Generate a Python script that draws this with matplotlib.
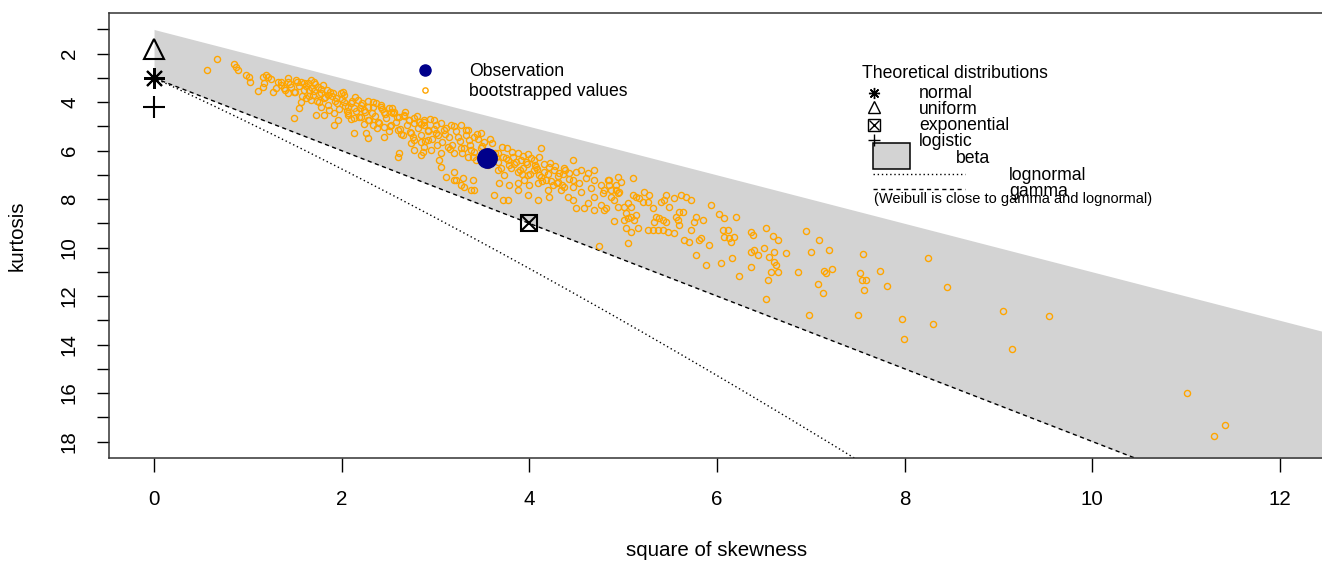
import numpy as np
import matplotlib
matplotlib.use("Agg")
from matplotlib import pyplot as plt
from matplotlib.patches import Rectangle

plt.rcParams['font.family'] = ['Liberation Sans', 'DejaVu Sans']

# --- Daten ---
obs_skew2 = 3.545
obs_kurt = 6.31

# theoretische Verteilungen (Schiefe^2, Kurtosis)
theo_names = ["normal", "uniform", "exponential", "logistic"]
theo_skew2 = [0.0, 0.0, 4.0, 0.0]
theo_kurt = [3.0, 1.8, 9.0, 4.2]

# Bootstrap-Werte
boot_skew2 = [
    0.560, 0.666, 0.848, 0.869, 0.890, 0.975, 1.007, 1.018, 1.157, 1.189,
    1.210, 1.167, 1.103, 1.157, 1.263, 1.317, 1.349, 1.381, 1.423, 1.455,
    1.423, 1.487, 1.509, 1.562, 1.594, 1.636, 1.668, 1.700, 1.647, 1.690,
    1.562, 1.615, 1.668, 1.540, 1.487, 1.743, 1.775, 1.807, 1.754, 1.775,
    1.850, 1.903, 1.935, 1.988, 2.010, 1.722, 1.807, 1.860, 1.914, 1.956,
    1.914, 2.020, 2.063, 2.095, 2.127, 2.170, 2.202, 2.234, 2.276, 2.329,
    2.361, 2.415, 2.447, 2.500, 2.553, 2.607, 2.660, 2.713, 2.767, 2.820,
    2.873, 2.063, 2.127, 2.202, 2.276, 2.329, 2.383, 2.447, 2.521, 2.596,
    2.649, 2.735, 2.767, 2.841, 2.916, 2.127, 2.255, 2.276, 2.447, 2.607,
    2.596, 2.841, 2.767, 2.735, 2.521,
    2.873, 2.980, 2.916, 3.001, 3.086, 3.161, 3.268, 3.342, 3.406, 3.481,
    2.873, 2.948, 3.054, 3.129, 3.193, 3.268, 3.342, 3.374, 3.428, 2.862,
    3.033, 3.054, 3.193, 3.108, 3.289, 3.396, 3.300, 3.374, 3.214,
    3.662, 3.715, 3.769, 3.822, 3.875, 3.907, 3.961, 4.014, 4.067, 4.120, 4.099,
    3.662, 3.726, 3.801, 3.875, 3.929, 3.982, 4.046, 4.099, 4.152, 4.206,
    4.259, 4.312, 4.366, 4.462, 4.419, 4.494, 4.547, 4.622, 4.686,
    3.673, 3.779, 3.875, 3.939, 3.993, 4.088, 4.174, 4.248, 4.302, 4.366,
    4.462, 4.526, 4.600, 4.686, 4.760, 4.845, 4.920,
    3.619, 3.715, 3.875, 3.982, 4.088, 4.195, 4.206, 4.334, 4.408, 4.462,
    4.547, 4.654, 4.686, 4.782, 4.867, 4.941,
    4.494, 4.579, 4.622, 4.686, 4.760, 4.813, 3.193, 3.268, 3.406, 3.769,
    4.792, 4.835, 4.845, 4.920, 4.941, 4.973, 4.952, 4.867, 4.792, 4.899,
    4.941, 5.005, 5.048, 5.080, 5.101,
    5.027, 5.080, 5.133, 5.005, 5.048, 5.112, 4.899, 5.027, 5.080, 5.155, 5.048,
    5.101, 5.133, 5.165, 5.208, 5.219, 5.272, 5.261, 5.314, 5.400, 5.453,
    5.432, 5.538, 5.613, 5.666, 5.720, 5.485,
    5.261, 5.314, 5.368, 5.421, 5.474, 5.325, 5.379, 5.421, 5.453, 5.346, 5.538,
    5.560, 5.592, 5.634, 5.581, 5.592, 5.720, 5.752, 5.773, 5.848, 5.645,
    5.698, 5.805, 5.826, 5.773, 5.912, 5.880,
    5.933, 6.018, 6.071, 6.061, 6.114, 6.071, 6.146, 6.125, 6.178, 6.199,
    6.040, 6.157, 6.231,
    6.359, 6.381, 6.359, 6.391, 6.434, 6.498, 6.519, 6.551, 6.594, 6.647,
    6.605, 6.605, 6.626, 6.359, 6.573, 6.647, 6.541, 6.733, 6.860, 6.946,
    6.999, 7.084, 7.074, 6.519,
    7.191, 7.553, 8.246, 7.138, 7.159, 7.223, 7.521, 7.543, 7.585, 7.735,
    7.127, 7.564, 7.809, 8.449, 6.978, 7.500, 7.969, 8.300, 7.990, 9.046,
    9.536, 9.142, 11.007, 11.413, 11.295, 4.739,
    # dichter Kern
    1.25, 1.30, 1.35, 1.40, 1.45, 1.50, 1.55, 1.58,
    1.62, 1.65, 1.70, 1.74, 1.78, 1.82, 1.85, 1.88, 1.93, 1.97,
    2.00, 2.04, 2.07, 2.11, 2.15, 2.18, 2.22, 2.25, 2.29, 2.33,
    2.36, 2.40, 2.43, 2.47, 2.51, 2.55, 2.58, 2.62, 2.66, 2.70,
    2.73, 2.77, 2.81, 2.85, 2.88, 2.92, 2.96, 3.00, 3.03, 3.07,
    3.11, 3.14, 3.18, 3.22, 3.26, 3.30, 3.33, 3.37, 3.41, 3.45,
    3.48, 3.52, 3.56, 3.60, 3.63, 3.67, 3.71, 3.75, 3.78, 3.82,
    3.86, 3.90, 3.93, 3.97, 4.01, 4.05, 4.08, 4.12, 4.16, 4.20,
    4.23, 4.27, 4.31, 4.35, 4.38, 4.42, 4.46,
    2.02, 2.06, 2.10, 2.14, 2.19, 2.24, 2.28, 2.32, 2.38, 2.42,
    2.46, 2.50, 2.54, 2.59, 2.63, 2.68, 2.72, 2.76, 2.80, 2.84,
    2.89, 2.94, 2.98, 3.02, 3.06, 3.10, 3.15, 3.20, 3.24, 3.28,
    3.32, 3.36, 3.40, 3.44, 3.50, 3.58, 3.64, 3.70, 3.76, 3.84,
    3.92, 3.99, 4.06, 4.14, 4.22, 4.29, 4.36, 1.60, 1.68, 1.76,
    1.84, 1.90, 1.95, 1.72, 1.80, 1.43, 1.52,
]
boot_kurt = [
    2.687, 2.235, 2.440, 2.564, 2.687, 2.893, 2.975, 3.181, 2.975, 2.893,
    2.975, 3.222, 3.551, 3.387, 3.593, 3.181, 3.305, 3.428, 3.181, 3.387,
    3.634, 3.593, 3.099, 3.181, 3.510, 3.222, 3.099, 3.181, 3.510, 3.716,
    4.004, 3.839, 3.922, 4.251, 4.663, 3.387, 3.634, 3.839, 4.004, 4.210,
    3.716, 3.634, 3.839, 3.634, 3.593, 4.539, 4.539, 4.333, 4.457, 4.745,
    4.951, 4.004, 4.210, 4.045, 4.251, 3.922, 4.127, 4.333, 4.210, 4.004,
    4.045, 4.210, 4.416, 4.251, 4.416, 4.622, 4.539, 4.745, 4.868, 4.827,
    4.951, 4.539, 4.663, 4.622, 4.745, 4.951, 4.827, 5.033, 4.951, 5.156,
    5.362, 5.280, 5.568, 5.650, 5.568, 5.280, 5.280, 5.486, 5.445, 6.103,
    6.268, 6.185, 5.980, 5.691, 4.416,
    4.745, 4.745, 5.156, 5.280, 5.156, 4.951, 4.951, 5.156, 5.445, 5.280,
    5.856, 5.980, 6.103, 5.856, 6.103, 5.898, 6.268, 5.980, 6.391, 6.062,
    6.391, 6.679, 6.885, 7.090, 7.132, 7.214, 7.502, 7.626, 7.214,
    6.103, 6.268, 6.391, 6.268, 6.103, 6.391, 6.474, 6.309, 6.679, 5.898, 6.268,
    6.802, 7.008, 6.720, 6.885, 6.720, 7.008, 6.802, 7.008, 6.885, 6.679,
    6.802, 6.926, 6.720, 6.391, 6.926, 6.885, 6.802, 6.926, 6.802,
    7.337, 7.420, 7.337, 7.214, 7.420, 7.337, 7.214, 7.420, 7.296, 7.502,
    7.214, 7.337, 7.132, 7.214, 7.420, 7.214, 7.420,
    7.831, 8.037, 7.626, 7.831, 8.037, 7.626, 7.914, 7.626, 7.914, 8.037,
    7.708, 7.543, 7.914, 7.749, 7.626, 7.749,
    8.366, 8.366, 8.160, 8.449, 8.243, 8.366, 7.214, 7.420, 7.626, 8.037,
    7.626, 7.214, 7.420, 7.626, 7.090, 7.296, 7.708, 7.914, 8.449, 8.037,
    8.325, 8.325, 8.160, 8.325, 7.132,
    8.573, 8.743, 8.655, 8.867, 8.780, 8.867, 8.910, 9.196, 9.360, 9.196, 9.813,
    7.831, 7.914, 7.955, 8.120, 7.708, 7.831, 8.120, 8.366, 8.120, 7.831,
    8.037, 7.955, 7.831, 7.914, 8.037, 8.325,
    9.278, 9.278, 9.278, 9.278, 9.360, 8.949, 8.780, 8.867, 8.949, 8.743, 9.400,
    8.743, 8.533, 8.533, 8.867, 9.072, 9.278, 8.949, 8.743, 8.867, 9.689,
    9.771, 9.689, 9.607, 10.30, 9.89, 10.71,
    8.243, 8.614, 8.780, 9.278, 9.278, 9.56, 9.771, 9.607, 9.56, 8.743,
    10.63, 10.42, 11.16,
    9.36, 9.48, 10.18, 10.09, 10.30, 10.01, 9.19, 10.38, 9.52, 9.69,
    10.18, 10.59, 10.71, 10.79, 11.00, 11.00, 11.33, 10.22, 11.00, 9.31,
    10.18, 9.68, 11.49, 12.11,
    10.09, 10.26, 10.42, 10.96, 11.04, 10.88, 11.04, 11.33, 11.33, 10.96,
    11.86, 11.74, 11.58, 11.62, 12.77, 12.77, 12.93, 13.14, 13.76, 12.60,
    12.81, 14.17, 15.98, 17.30, 17.79, 9.937,
    # dichter Kern
    3.05, 3.40, 3.15, 3.50, 3.25, 3.60, 3.35, 3.75,
    3.35, 3.75, 3.55, 3.95, 3.45, 3.80, 4.10, 3.60, 3.95, 4.30,
    3.85, 4.15, 4.45, 3.95, 4.35, 4.60, 4.05, 4.40, 4.75, 4.20,
    4.55, 4.85, 4.30, 4.65, 5.00, 4.45, 4.80, 5.10, 4.55, 4.95,
    5.25, 4.65, 5.05, 5.35, 4.80, 5.20, 5.50, 4.95, 5.35, 5.65,
    5.05, 5.45, 5.75, 5.20, 5.60, 5.90, 5.35, 5.75, 6.05, 5.50,
    5.90, 5.65, 6.60, 5.70, 6.10, 6.45, 5.85, 6.30, 6.60, 6.05,
    6.45, 6.80, 6.20, 6.55, 6.95, 6.40, 6.75, 7.10, 6.55, 6.95,
    7.25, 6.65, 7.05, 7.40, 6.80, 7.15, 7.50,
    3.70, 4.35, 4.70, 3.80, 4.25, 4.90, 3.95, 4.45, 5.05, 4.10,
    4.50, 5.20, 4.25, 4.60, 5.30, 4.40, 4.75, 5.45, 4.55, 4.90,
    5.60, 4.70, 5.10, 5.75, 4.85, 5.30, 5.95, 5.00, 5.45, 6.10,
    5.15, 5.55, 6.25, 5.30, 5.80, 5.50, 6.25, 6.70, 5.90, 6.55,
    6.95, 6.15, 6.60, 7.25, 6.50, 7.35, 6.95, 3.20, 3.40, 3.65,
    3.50, 3.75, 4.05, 3.25, 3.30, 3.00, 3.15,
]

# Achsenbereich wie bei R (0..12 bzw. 1..18, je 4 % Rand)
xmax = 12
kurtmax = 18

lightgrey = "#D3D3D3"
W, H = 1322, 562


def fpos(px, py):
    """Pixelposition -> Figurkoordinaten"""
    return px / W, 1 - py / H


fig = plt.figure(figsize=(W / 100, H / 100), dpi=100)
ax = fig.add_axes([109 / W, 1 - 458 / H, 1216 / W, 445 / H])

# Beta-Bereich zwischen Grenzlinie (k = s2 + 1) und Gamma-Linie
s2 = np.linspace(0, 14, 200)
ax.fill_between(s2, s2 + 1, 3 + 1.5 * s2, color=lightgrey, lw=0, zorder=1)

# Lognormal (parametrisch in sigma)
sig = np.linspace(0, 1, 400)
w = np.exp(sig ** 2)
ln_s2 = (w + 2) ** 2 * (w - 1)
ln_k = w ** 4 + 2 * w ** 3 + 3 * w ** 2 - 3
ax.plot(ln_s2, ln_k, color="k", lw=1.0, ls=(0, (1, 2)), zorder=2)

# Gamma
ax.plot(s2, 3 + 1.5 * s2, color="k", lw=1.0, ls=(0, (3, 2.5)), zorder=2)

# theoretische Punkte
mew = 1.5
ax.plot(theo_skew2[0], theo_kurt[0], marker=(8, 2, 0), ms=15, mew=mew, color="k", ls="none", zorder=3)
ax.plot(theo_skew2[1], theo_kurt[1], marker="^", ms=14, mew=mew, mfc="none", mec="k", ls="none", zorder=3)
ax.plot(theo_skew2[2], theo_kurt[2], marker="s", ms=11, mew=mew, mfc="none", mec="k", ls="none", zorder=3)
ax.plot(theo_skew2[2], theo_kurt[2], marker="x", ms=11, mew=mew, color="k", ls="none", zorder=3)
ax.plot(theo_skew2[3], theo_kurt[3], marker="+", ms=16, mew=mew, color="k", ls="none", zorder=3)

# Bootstrap + Beobachtung
ax.plot(boot_skew2, boot_kurt, ls="none", marker="o", ms=4.4, mfc="none", mec="#FFA500", mew=1.0, zorder=4)
ax.plot(obs_skew2, obs_kurt, ls="none", marker="o", ms=14, color="#00008B", zorder=5)

ax.set_xlim(-0.04 * xmax, 1.04 * xmax)
yr = kurtmax - 1
ax.set_ylim(kurtmax + 0.04 * yr, 1 - 0.04 * yr)

ax.set_xticks(range(0, 13, 2))
ax.set_yticks(range(1, kurtmax + 1))
ax.set_yticklabels([str(k) if k % 2 == 0 else "" for k in range(1, kurtmax + 1)])
for lab in ax.get_yticklabels():
    lab.set_rotation(90)
    lab.set_va("center")
ax.tick_params(axis="x", length=10, width=1, pad=13, labelsize=14.8, colors="k")
ax.tick_params(axis="y", length=8.6, width=1, pad=13, labelsize=14.8, colors="k")
for sp in ax.spines.values():
    sp.set_linewidth(1.1)
    sp.set_color("#333333")

fig.text(*fpos(717, 551), "square of skewness", ha="center", va="center", fontsize=14.8)
fig.text(*fpos(17, 236), "kurtosis", ha="center", va="center", rotation=90, fontsize=14.8)

# Legende links
lg = 12.7
fig.lines.append(plt.Line2D([425 / W], [1 - 70 / H], marker="o", ms=8, color="#00008B", ls="none", transform=fig.transFigure))
fig.lines.append(plt.Line2D([425 / W], [1 - 90 / H], marker="o", ms=3.8, mfc="none", mec="#FFA500", mew=1.0, ls="none", transform=fig.transFigure))
fig.text(*fpos(469, 72), "Observation", va="center", fontsize=lg)
fig.text(*fpos(469, 92), "bootstrapped values", va="center", fontsize=lg)

# Legende rechts
fig.text(*fpos(862, 73), "Theoretical distributions", va="center", fontsize=lg)
lx = 874
mk = [((8, 2, 0), 93, {}), ("^", 107, {"mfc": "none"}), ("s", 125, {"mfc": "none"}), ("+", 140, {})]
for m, y, kw in mk:
    fig.lines.append(plt.Line2D([lx / W], [1 - y / H], marker=m, ms=8, mew=1, color="k", ls="none",
                                transform=fig.transFigure, **kw))
fig.lines.append(plt.Line2D([lx / W], [1 - 125 / H], marker="x", ms=6.5, mew=1, color="k", ls="none",
                            transform=fig.transFigure))
for name, y in zip(theo_names, [93, 109, 125, 142]):
    fig.text(*fpos(919, y), name, va="center", fontsize=lg)
fig.patches.append(Rectangle(fpos(873, 169), 37 / W, 26 / H, transform=fig.transFigure,
                             facecolor=lightgrey, edgecolor="k", lw=1.1))
fig.text(*fpos(956, 159), "beta", va="center", fontsize=lg)
fig.lines.append(plt.Line2D([873 / W, 965 / W], [1 - 174 / H] * 2, color="k", lw=1.0, ls=(0, (1, 2)),
                            transform=fig.transFigure))
fig.text(*fpos(1009, 176), "lognormal", va="center", fontsize=lg)
fig.lines.append(plt.Line2D([873 / W, 965 / W], [1 - 189 / H] * 2, color="k", lw=1.0, ls=(0, (3, 2.5)),
                            transform=fig.transFigure))
fig.text(*fpos(1009, 191), "gamma", va="center", fontsize=lg)
fig.text(*fpos(874, 199), "(Weibull is close to gamma and lognormal)", va="center", fontsize=10.5)

fig.savefig("out.png", dpi=100)
